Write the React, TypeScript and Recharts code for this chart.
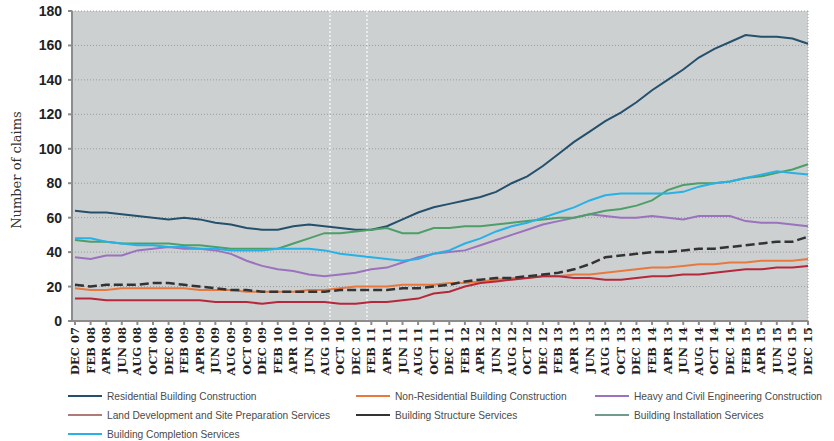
import { LineChart, Line, XAxis, YAxis, CartesianGrid, ReferenceLine } from "recharts"

const labels = [
  "DEC 07", "FEB 08", "APR 08", "JUN 08", "AUG 08", "OCT 08", "DEC 08",
  "FEB 09", "APR 09", "JUN 09", "AUG 09", "OCT 09", "DEC 09",
  "FEB 10", "APR 10", "JUN 10", "AUG 10", "OCT 10", "DEC 10",
  "FEB 11", "APR 11", "JUN 11", "AUG 11", "OCT 11", "DEC 11",
  "FEB 12", "APR 12", "JUN 12", "AUG 12", "OCT 12", "DEC 12",
  "FEB 13", "APR 13", "JUN 13", "AUG 13", "OCT 13", "DEC 13",
  "FEB 14", "APR 13", "JUN 14", "AUG 14", "OCT 14", "DEC 14",
  "FEB 15", "APR 15", "JUN 15", "AUG 15", "DEC 15",
]

const residential = [
  64, 63, 63, 62, 61, 60, 59, 60, 59, 57, 56, 54, 53, 53, 55, 56, 55, 54, 53, 53, 55, 59, 63, 66,
  68, 70, 72, 75, 80, 84, 90, 97, 104, 110, 116, 121, 127, 134, 140, 146, 153, 158, 162, 166, 165, 165, 164, 161,
]
const nonResidential = [
  19, 18, 18, 19, 19, 19, 19, 19, 18, 18, 18, 17, 17, 17, 17, 18, 18, 19, 20, 20, 20, 21, 21, 21,
  22, 22, 23, 24, 25, 25, 26, 26, 27, 27, 28, 29, 30, 31, 31, 32, 33, 33, 34, 34, 35, 35, 35, 36,
]
const heavyCivil = [
  37, 36, 38, 38, 41, 42, 43, 42, 42, 41, 39, 35, 32, 30, 29, 27, 26, 27, 28, 30, 31, 34, 37, 39,
  40, 41, 44, 47, 50, 53, 56, 58, 60, 62, 61, 60, 60, 61, 60, 59, 61, 61, 61, 58, 57, 57, 56, 55,
]
const landDevelopment = [
  13, 13, 12, 12, 12, 12, 12, 12, 12, 11, 11, 11, 10, 11, 11, 11, 11, 10, 10, 11, 11, 12, 13, 16,
  17, 20, 22, 23, 24, 25, 26, 26, 25, 25, 24, 24, 25, 26, 26, 27, 27, 28, 29, 30, 30, 31, 31, 32,
]
const structure = [
  21, 20, 21, 21, 21, 22, 22, 21, 20, 19, 18, 18, 17, 17, 17, 17, 17, 18, 18, 18, 18, 19, 19, 20,
  21, 23, 24, 25, 25, 26, 27, 28, 30, 33, 37, 38, 39, 40, 40, 41, 42, 42, 43, 44, 45, 46, 46, 49,
]
const installation = [
  47, 46, 46, 45, 45, 45, 45, 44, 44, 43, 42, 42, 42, 42, 45, 48, 51, 51, 52, 53, 54, 51, 51, 54,
  54, 55, 55, 56, 57, 58, 59, 60, 60, 62, 64, 65, 67, 70, 76, 79, 80, 80, 81, 83, 84, 86, 88, 91,
]
const completion = [
  48, 48, 46, 45, 44, 44, 43, 43, 42, 42, 41, 41, 41, 42, 42, 42, 41, 39, 38, 37, 36, 35, 36, 39,
  41, 45, 48, 52, 55, 57, 60, 63, 66, 70, 73, 74, 74, 74, 74, 75, 78, 80, 81, 83, 85, 87, 86, 85,
]

const yTicks = [0, 20, 40, 60, 80, 100, 120, 140, 160, 180]

const series = [
  { key: "residential", name: "Residential Building Construction", color: "#24506c", values: residential },
  { key: "nonResidential", name: "Non-Residential Building Construction", color: "#e8793e", values: nonResidential },
  { key: "heavyCivil", name: "Heavy and Civil Engineering Construction", color: "#9a72bd", values: heavyCivil },
  { key: "landDevelopment", name: "Land Development and Site Preparation Services", color: "#b5283c", legendColor: "#b07a7a", values: landDevelopment },
  { key: "structure", name: "Building Structure Services", color: "#333333", values: structure, dashed: true },
  { key: "installation", name: "Building Installation Services", color: "#4c9f68", legendColor: "#6f9a8c", values: installation },
  { key: "completion", name: "Building Completion Services", color: "#27b1e6", values: completion },
]

const data = labels.map((label, i) => {
  const row: any = { idx: i, label }
  series.forEach((s) => { row[s.key] = s.values[i] })
  return row
})

const XTick = ({ x, y, payload }: any) => (
  <text
    x={x}
    y={y}
    dy={4}
    transform={`rotate(-90 ${x} ${y})`}
    textAnchor="end"
    fontFamily="DejaVu Serif"
    fontWeight="bold"
    fontSize={11.5}
    fill="#222"
  >
    {labels[payload.value]}
  </text>
)

const legendCols = [68, 356, 595]

export default function App() {
  return (
    <div style={{ position: "absolute", left: 0, top: 0, width: 834, height: 441, background: "#fff" }}>
      <LineChart width={834} height={388} data={data} margin={{ top: 11, right: 26, left: 0, bottom: 0 }}>
        <CartesianGrid vertical={false} stroke="#9b9d9f" strokeDasharray="1 2" fill="#cdd0d1" />
        <ReferenceLine x={16.35} stroke="#f4f4f4" strokeDasharray="2 2" strokeWidth={1.5} />
        <ReferenceLine x={18.72} stroke="#f4f4f4" strokeDasharray="2 2" strokeWidth={1.5} />
        <ReferenceLine x={47} stroke="#9b9d9f" strokeDasharray="1 2" />
        <XAxis
          type="number"
          dataKey="idx"
          domain={[0, 47]}
          ticks={labels.map((_, i) => i)}
          interval={0}
          padding={{ left: 3, right: 0 }}
          height={67}
          tickSize={4}
          tickMargin={2}
          stroke="#8c8c8c"
          strokeWidth={2}
          tick={<XTick />}
        />
        <YAxis
          domain={[0, 180]}
          ticks={yTicks}
          width={72}
          tickSize={4}
          tickMargin={6}
          stroke="#8c8c8c"
          strokeWidth={2}
          tick={{ fontFamily: "Liberation Sans", fontWeight: "bold", fontSize: 14, fill: "#222" }}
          label={{
            value: "Number of claims",
            angle: -90,
            position: "insideLeft",
            offset: 0,
            dx: 16,
            dy: 4,
            style: { fontFamily: "DejaVu Serif", fontSize: 13, fill: "#333", textAnchor: "middle" },
          }}
        />
        {series.map((s) => (
          <Line
            key={s.key}
            type="linear"
            dataKey={s.key}
            name={s.name}
            stroke={s.color}
            strokeWidth={s.dashed ? 2.5 : 2}
            strokeDasharray={s.dashed ? "9 4" : undefined}
            dot={false}
            isAnimationActive={false}
          />
        ))}
      </LineChart>
      {series.map((s, i) => {
        const col = i % 3
        const row = Math.floor(i / 3)
        const top = 396 + row * 19
        return (
          <div
            key={s.key}
            style={{
              position: "absolute",
              left: legendCols[col],
              top: top - 6,
              height: 12,
              display: "flex",
              alignItems: "center",
              whiteSpace: "nowrap",
              fontFamily: "Liberation Sans",
              fontSize: 10.2,
              color: "#4a4a4a",
            }}
          >
            <span
              style={{
                display: "inline-block",
                width: 34,
                height: 2,
                background: s.legendColor ?? s.color,
                marginRight: 5,
              }}
            />
            {s.name}
          </div>
        )
      })}
    </div>
  )
}
